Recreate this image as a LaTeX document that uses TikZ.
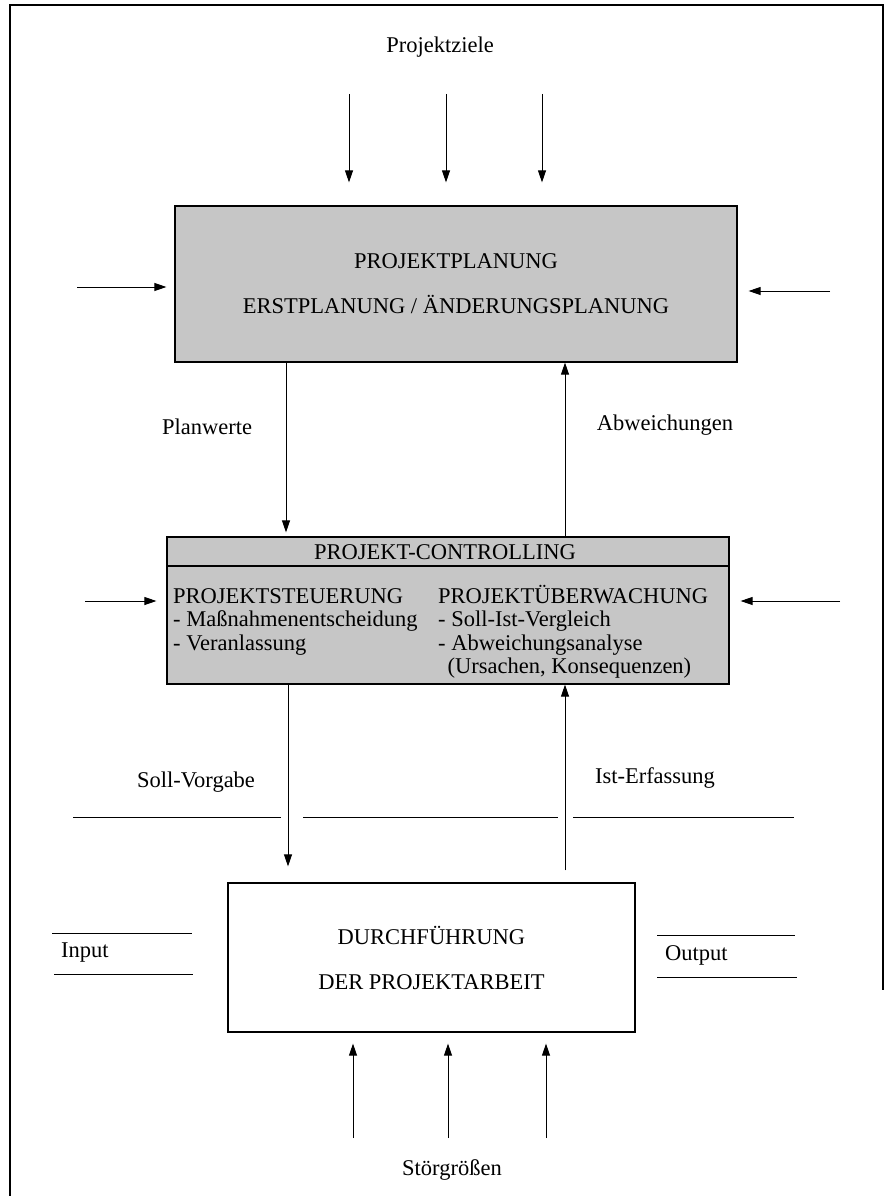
\documentclass[tikz,border=0pt]{standalone}
\usepackage{fontspec}
\setmainfont{Liberation Serif}
\usetikzlibrary{arrows.meta,positioning,calc}

\begin{document}
\begin{tikzpicture}[
    x=1pt,
    y=-1pt,
    every node/.style={
        inner sep=0pt,
        font=\fontsize{22.5}{23.3}\selectfont
    },
    shadebox/.style={
        rectangle,
        draw,
        line width=1.2pt,
        fill=gray!45
    },
    plainbox/.style={
        rectangle,
        draw,
        line width=1.2pt,
        fill=white
    },
    twoline/.style={
        align=center,
        font=\fontsize{22.5}{45}\selectfont
    },
    line/.style={
        draw,
        -{Triangle[length=12pt,width=8pt]},
        line width=0.9pt
    },
    rule/.style={
        draw,
        line width=0.9pt
    }
]
\useasboundingbox (0,0) rectangle (889,1196);

% Frame
\draw [line width=2pt] (10,1196) -- (10,5) -- (883,5) -- (883,990);

% Nodes
\node (ziele) at (440,47) {Projektziele};
\node [shadebox, twoline, minimum width=562pt, minimum height=156pt] (plan) at (456,284)
    {PROJEKTPLANUNG\\ERSTPLANUNG / ÄNDERUNGSPLANUNG};
\node [anchor=west] (planwerte) at (162,427) {Planwerte};
\node (abw) at (665,425) {Abweichungen};
\node [shadebox, minimum width=562pt, minimum height=147pt] (ctrl) at (448,610.5) {};
\node (ctrltitle) at (445,552) {PROJEKT-CONTROLLING};
\node [anchor=north west, align=left] (steuer) at (173,585)
    {\vphantom{Ü}PROJEKTSTEUERUNG\\- Maßnahmenentscheidung\\- Veranlassung};
\node [anchor=north west, align=left] (ueberw) at (438,585)
    {PROJEKTÜBERWACHUNG\\- Soll-Ist-Vergleich\\- Abweichungsanalyse\\\ \,(Ursachen, Konsequenzen)};
\node (soll) at (196,782) {Soll-Vorgabe};
\node (ist) at (655,778) {Ist-Erfassung};
\node [plainbox, twoline, minimum width=407pt, minimum height=149pt] (durch) at (431.5,957.5)
    {DURCHFÜHRUNG\\DER PROJEKTARBEIT};
\node [anchor=west] (input) at (61,953) {Input};
\node [anchor=west] (output) at (665,955) {Output};
\node (stoer) at (452,1170) {Störgrößen};

% Coordinates
\coordinate (pl) at (77,287);
\coordinate (pr) at (830,291);
\coordinate (cl) at (85,601);
\coordinate (cr) at (840,601);
\coordinate (pw) at (286,0);
\coordinate (ab) at (565,0);
\coordinate (sv) at (288,0);

% Edges
\foreach \x in {349,446,542}
    \path [line, shorten >=23pt] (\x,94) -- (\x,94 |- plan.north);
\path [line, shorten >=8pt] (pl) -- (pl -| plan.west);
\path [line, shorten >=11pt] (pr) -- (pr -| plan.east);
\path [line, shorten >=4pt] (plan.south -| pw) -- (ctrl.north -| pw);
\path [line] (ctrl.north -| ab) -- (plan.south -| ab);
\draw [line width=1.2pt] (ctrl.west |- 0,566) -- (ctrl.east |- 0,566);
\path [line, shorten >=10pt] (cl) -- (cl -| ctrl.west);
\path [line, shorten >=11pt] (cr) -- (cr -| ctrl.east);
\path [line, shorten >=16pt] (ctrl.south -| sv) -- (durch.north -| sv);
\path [line, shorten <=12pt] (durch.north -| ab) -- (ctrl.south -| ab);
\foreach \x in {353,448,546}
    \path [line, shorten >=11pt] (\x,1138) -- (\x,1138 |- durch.south);

% Rules
\path [rule] (73,817) -- (281,817);
\path [rule] (303,817) -- (558,817);
\path [rule] (573,817) -- (794,817);
\path [rule] (52,933) -- (192,933);
\path [rule] (54,974) -- (193,974);
\path [rule] (657,935) -- (795,935);
\path [rule] (657,977) -- (797,977);

\end{tikzpicture}
\end{document}
